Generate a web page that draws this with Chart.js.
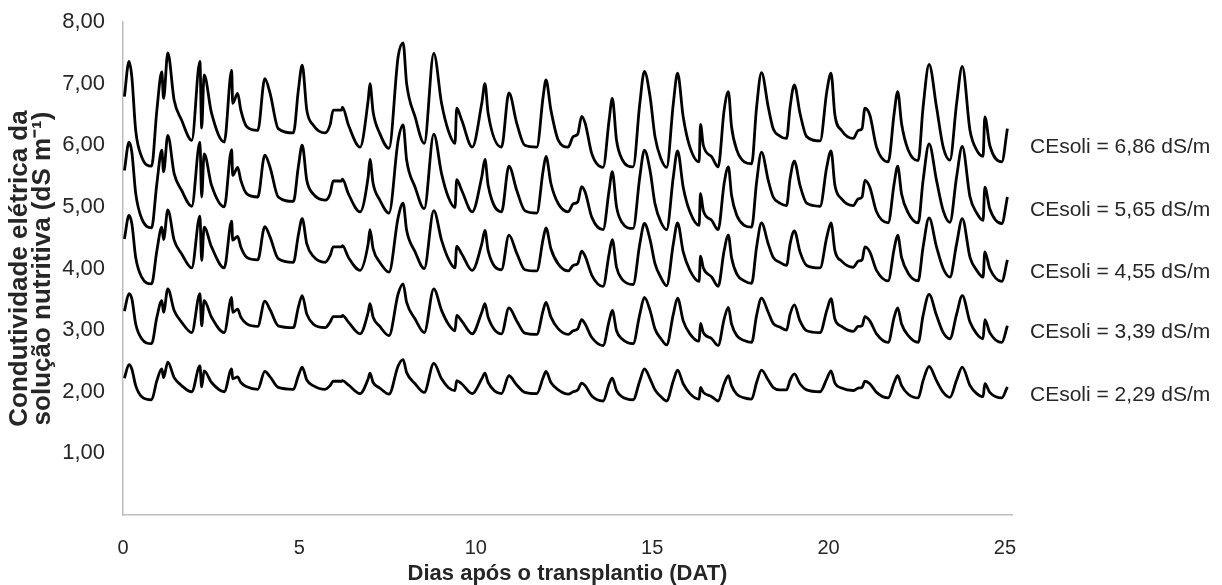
<!DOCTYPE html>
<html>
<head>
<meta charset="utf-8">
<script src="https://cdn.jsdelivr.net/npm/chart.js@4.4.1/dist/chart.umd.min.js"></script>
<style>
  html, body { margin: 0; padding: 0; background: #fff; }
  #wrap { width: 1222px; height: 585px; }
</style>
</head>
<body>
<div id="wrap"><canvas id="chart" width="1222" height="585"></canvas></div>
<script>
// days after transplant (shared time base of the five records)
var days = [
  0.04, 0.17, 0.25, 0.36, 0.53, 0.81, 0.96, 1.10, 1.15, 1.27,
  1.45, 1.66, 1.95, 2.18, 2.23, 2.30, 2.51, 2.87, 3.08, 3.11,
  3.25, 3.34, 3.51, 3.82, 4.02, 4.17, 4.40, 4.83, 4.97, 5.08,
  5.21, 5.39, 5.73, 5.87, 5.96, 6.20, 6.22, 6.39, 6.72, 6.95,
  7.00, 7.09, 7.28, 7.54, 7.80, 7.94, 8.04, 8.28, 8.54, 8.81,
  9.03, 9.22, 9.41, 9.46, 9.60, 9.90, 10.17, 10.26, 10.35, 10.73,
  10.94, 11.16, 11.39, 11.73, 11.91, 11.99, 12.13, 12.34, 12.62, 12.76,
  12.89, 13.00, 13.10, 13.29, 13.61, 13.78, 13.87, 13.99, 14.14, 14.46,
  14.65, 14.78, 14.94, 15.08, 15.25, 15.41, 15.60, 15.72, 15.88, 16.07,
  16.33, 16.37, 16.45, 16.69, 16.87, 17.04, 17.16, 17.25, 17.40, 17.61,
  17.82, 17.96, 18.10, 18.29, 18.43, 18.62, 18.81, 18.91, 19.03, 19.19,
  19.38, 19.76, 19.95, 20.07, 20.18, 20.37, 20.70, 20.84, 20.95, 21.03,
  21.17, 21.36, 21.69, 21.86, 21.96, 22.07, 22.26, 22.54, 22.68, 22.85,
  23.06, 23.25, 23.44, 23.63, 23.79, 24.01, 24.20, 24.38, 24.43, 24.57,
  24.91, 25.07
];

var ce686 = [
  6.79, 7.36, 7.11, 6.24, 5.81, 5.66, 6.57, 7.19, 6.76, 7.50,
  6.73, 6.41, 6.08, 7.36, 6.28, 7.14, 6.52, 6.05, 7.22, 6.68,
  6.84, 6.57, 6.30, 6.24, 7.08, 6.84, 6.27, 6.20, 6.89, 7.30,
  6.57, 6.33, 6.20, 6.33, 6.57, 6.57, 6.62, 6.33, 5.97, 6.73,
  7.00, 6.54, 6.19, 5.95, 7.44, 7.66, 7.00, 6.46, 6.03, 7.49,
  6.68, 6.24, 6.03, 6.60, 6.41, 5.97, 6.68, 7.00, 6.52, 5.97,
  6.85, 6.36, 6.00, 5.97, 6.79, 7.06, 6.57, 6.08, 5.97, 6.14,
  6.18, 6.47, 6.36, 5.86, 5.64, 6.41, 6.76, 6.08, 5.78, 5.65,
  6.68, 7.20, 6.79, 6.14, 5.78, 5.64, 6.68, 7.17, 6.46, 5.97,
  5.73, 6.34, 6.00, 5.81, 5.65, 6.57, 6.87, 6.30, 5.92, 5.73,
  5.70, 6.62, 7.18, 6.62, 6.27, 6.15, 6.11, 6.62, 6.98, 6.52,
  6.14, 6.07, 6.87, 7.17, 6.49, 6.24, 6.11, 6.24, 6.27, 6.60,
  6.49, 5.97, 5.73, 6.52, 6.87, 6.35, 5.92, 5.75, 6.62, 7.31,
  6.62, 5.97, 5.76, 6.68, 7.28, 6.24, 5.92, 5.82, 6.46, 6.00,
  5.73, 6.27
];

var ce565 = [
  5.59, 6.05, 5.89, 5.22, 4.81, 4.66, 5.38, 5.92, 5.57, 6.16,
  5.54, 5.27, 5.01, 6.05, 5.16, 5.86, 5.35, 5.00, 5.93, 5.51,
  5.64, 5.43, 5.21, 5.16, 5.84, 5.64, 5.16, 5.09, 5.65, 6.00,
  5.43, 5.21, 5.11, 5.21, 5.42, 5.42, 5.45, 5.21, 4.92, 5.49,
  5.77, 5.38, 5.11, 4.90, 6.08, 6.33, 5.76, 5.32, 4.97, 6.18,
  5.54, 5.16, 4.99, 5.44, 5.27, 4.92, 5.49, 5.77, 5.35, 4.92,
  5.66, 5.27, 4.94, 4.90, 5.59, 5.82, 5.38, 5.05, 4.92, 5.05,
  5.08, 5.33, 5.24, 4.83, 4.63, 5.27, 5.57, 5.00, 4.75, 4.65,
  5.49, 5.92, 5.59, 5.05, 4.75, 4.63, 5.49, 5.91, 5.32, 4.92,
  4.70, 5.22, 4.94, 4.78, 4.63, 5.38, 5.65, 5.19, 4.86, 4.70,
  4.67, 5.40, 5.89, 5.43, 5.16, 5.06, 5.02, 5.46, 5.74, 5.35,
  5.06, 5.01, 5.65, 5.91, 5.35, 5.13, 5.02, 5.13, 5.16, 5.43,
  5.32, 4.92, 4.74, 5.38, 5.66, 5.21, 4.90, 4.74, 5.43, 6.02,
  5.43, 4.94, 4.75, 5.49, 5.98, 5.16, 4.90, 4.78, 5.32, 4.97,
  4.73, 5.16
];

var ce455 = [
  4.48, 4.86, 4.73, 4.18, 3.86, 3.75, 4.29, 4.67, 4.47, 4.95,
  4.46, 4.24, 4.01, 4.85, 4.13, 4.67, 4.35, 4.01, 4.77, 4.46,
  4.52, 4.35, 4.18, 4.14, 4.68, 4.51, 4.16, 4.10, 4.54, 4.81,
  4.40, 4.20, 4.10, 4.21, 4.35, 4.35, 4.37, 4.18, 3.97, 4.40,
  4.63, 4.32, 4.10, 3.94, 4.83, 5.06, 4.62, 4.27, 4.00, 4.94,
  4.46, 4.16, 4.01, 4.36, 4.24, 3.97, 4.40, 4.62, 4.29, 3.98,
  4.54, 4.25, 3.98, 3.96, 4.48, 4.66, 4.32, 4.07, 3.96, 4.05,
  4.08, 4.28, 4.20, 3.89, 3.71, 4.24, 4.47, 4.02, 3.83, 3.74,
  4.40, 4.73, 4.47, 4.08, 3.85, 3.72, 4.40, 4.74, 4.27, 3.97,
  3.79, 4.20, 4.01, 3.86, 3.71, 4.29, 4.54, 4.18, 3.91, 3.80,
  3.76, 4.35, 4.74, 4.40, 4.18, 4.10, 4.05, 4.40, 4.61, 4.27,
  4.05, 4.01, 4.51, 4.74, 4.29, 4.12, 4.02, 4.12, 4.14, 4.35,
  4.27, 3.97, 3.80, 4.32, 4.54, 4.18, 3.92, 3.80, 4.35, 4.82,
  4.35, 4.00, 3.86, 4.40, 4.81, 4.18, 3.97, 3.86, 4.27, 4.00,
  3.79, 4.14
];

var ce339 = [
  3.31, 3.59, 3.51, 3.10, 2.86, 2.78, 3.21, 3.48, 3.29, 3.67,
  3.32, 3.13, 2.96, 3.59, 3.07, 3.48, 3.21, 2.96, 3.53, 3.29,
  3.34, 3.21, 3.10, 3.06, 3.47, 3.33, 3.07, 3.04, 3.37, 3.56,
  3.26, 3.10, 3.04, 3.13, 3.22, 3.22, 3.24, 3.13, 2.94, 3.29,
  3.43, 3.21, 3.06, 2.91, 3.59, 3.75, 3.45, 3.18, 2.96, 3.67,
  3.32, 3.10, 2.99, 3.24, 3.15, 2.94, 3.29, 3.43, 3.21, 2.94,
  3.36, 3.15, 2.95, 2.93, 3.32, 3.45, 3.21, 3.02, 2.93, 2.99,
  3.02, 3.17, 3.10, 2.88, 2.75, 3.15, 3.32, 2.99, 2.86, 2.78,
  3.26, 3.53, 3.32, 3.02, 2.86, 2.76, 3.26, 3.52, 3.15, 2.94,
  2.82, 3.11, 2.96, 2.86, 2.75, 3.18, 3.37, 3.10, 2.91, 2.83,
  2.80, 3.24, 3.52, 3.29, 3.11, 3.05, 3.00, 3.26, 3.41, 3.15,
  2.99, 2.96, 3.32, 3.51, 3.18, 3.06, 2.98, 3.06, 3.07, 3.22,
  3.15, 2.94, 2.80, 3.21, 3.36, 3.10, 2.91, 2.80, 3.24, 3.58,
  3.24, 2.96, 2.86, 3.26, 3.56, 3.13, 2.94, 2.86, 3.17, 2.96,
  2.80, 3.07
];

var ce229 = [
  2.22, 2.44, 2.37, 2.10, 1.92, 1.87, 2.18, 2.37, 2.23, 2.48,
  2.23, 2.10, 2.00, 2.42, 2.08, 2.34, 2.15, 2.00, 2.37, 2.21,
  2.24, 2.15, 2.08, 2.04, 2.33, 2.24, 2.07, 2.04, 2.26, 2.40,
  2.19, 2.10, 2.04, 2.10, 2.17, 2.17, 2.18, 2.11, 1.97, 2.21,
  2.30, 2.15, 2.06, 1.96, 2.42, 2.52, 2.31, 2.13, 1.99, 2.46,
  2.21, 2.07, 2.02, 2.18, 2.13, 1.97, 2.21, 2.30, 2.15, 1.97,
  2.26, 2.11, 1.99, 1.97, 2.23, 2.33, 2.15, 2.03, 1.96, 2.00,
  2.03, 2.14, 2.10, 1.93, 1.85, 2.13, 2.22, 2.02, 1.92, 1.87,
  2.18, 2.37, 2.21, 2.03, 1.92, 1.85, 2.18, 2.35, 2.13, 1.97,
  1.88, 2.07, 1.99, 1.92, 1.85, 2.13, 2.26, 2.10, 1.96, 1.90,
  1.88, 2.15, 2.35, 2.19, 2.07, 2.03, 2.03, 2.19, 2.29, 2.13,
  2.03, 2.00, 2.21, 2.34, 2.14, 2.06, 2.02, 2.06, 2.07, 2.17,
  2.13, 1.99, 1.90, 2.15, 2.26, 2.10, 1.96, 1.90, 2.18, 2.41,
  2.18, 1.99, 1.91, 2.19, 2.40, 2.10, 1.97, 1.92, 2.13, 1.99,
  1.90, 2.08
];

var seriesNames = ['CEsoli = 6,86 dS/m', 'CEsoli = 5,65 dS/m', 'CEsoli = 4,55 dS/m', 'CEsoli = 3,39 dS/m', 'CEsoli = 2,29 dS/m'];
var seriesValues = [ce686, ce565, ce455, ce339, ce229];
// where each series name sits beside the plot (in dS m-1 units of the y axis)
var nameLevels = [5.97, 4.95, 3.94, 2.96, 1.95];

var yTicks = [0, 1, 2, 3, 4, 5, 6, 7, 8];
var xTicks = [0, 5, 10, 15, 20, 25];

var FONT = "'Liberation Sans', Arial, sans-serif";
var TEXT = '#262626';

function toPoints(values) {
  var pts = [];
  for (var i = 0; i < values.length; i++) {
    pts.push({x: days[i], y: values[i]});
  }
  return pts;
}

var datasets = [];
for (var s = 0; s < seriesValues.length; s++) {
  datasets.push({
    label: seriesNames[s],
    data: toPoints(seriesValues[s]),
    borderColor: '#000000',
    borderWidth: 2.8,
    pointRadius: 0,
    cubicInterpolationMode: 'monotone',
    fill: false
  });
}

var seriesNamesPlugin = {
  id: 'seriesNames',
  afterDraw: function(chart) {
    var ctx = chart.ctx;
    var yScale = chart.scales.y;
    ctx.save();
    ctx.font = '21px ' + FONT;
    ctx.fillStyle = TEXT;
    ctx.textAlign = 'left';
    ctx.textBaseline = 'middle';
    for (var i = 0; i < seriesNames.length; i++) {
      ctx.fillText(seriesNames[i], chart.chartArea.right + 18, yScale.getPixelForValue(nameLevels[i]));
    }
    ctx.restore();
  }
};

var chart = new Chart(document.getElementById('chart').getContext('2d'), {
  type: 'line',
  data: {datasets: datasets},
  plugins: [seriesNamesPlugin],
  options: {
    responsive: false,
    animation: false,
    devicePixelRatio: 1,
    layout: {padding: {left: 0, right: 210, top: 22, bottom: 0}},
    plugins: {legend: {display: false}, tooltip: {enabled: false}},
    scales: {
      x: {
        type: 'linear',
        min: 0,
        max: 25.2,
        afterBuildTicks: function(scale) {
          scale.ticks = xTicks.map(function(v) { return {value: v}; });
        },
        afterFit: function(scale) { scale.height = 70; },
        grid: {display: false, drawTicks: false},
        border: {display: true, color: '#bdbdbd', width: 1.5},
        ticks: {
          padding: 21,
          color: TEXT,
          font: {family: FONT, size: 20},
          maxRotation: 0,
          callback: function(v) { return String(v); }
        },
        title: {
          display: true,
          text: 'Dias após o transplantio (DAT)',
          color: TEXT,
          font: {family: FONT, size: 22, weight: 'bold', lineHeight: 1},
          padding: {top: 0, bottom: 0}
        }
      },
      y: {
        type: 'linear',
        min: 0,
        max: 8,
        afterBuildTicks: function(scale) {
          scale.ticks = yTicks.map(function(v) { return {value: v}; });
        },
        afterFit: function(scale) {
          scale.width = 123;
          scale.paddingTop = 0;
          scale.paddingBottom = 0;
        },
        grid: {display: false, drawTicks: false},
        border: {display: true, color: '#bdbdbd', width: 1.5},
        ticks: {
          padding: 18,
          color: TEXT,
          font: {family: FONT, size: 22},
          callback: function(v) { return v === 0 ? '' : v.toFixed(2).replace('.', ','); }
        },
        title: {
          display: true,
          text: ['Condutividade elétrica da', 'solução nutritiva (dS m\u207B\u00B9)'],
          color: TEXT,
          font: {family: FONT, size: 26, weight: 'bold', lineHeight: 0.9},
          padding: {top: 8, bottom: 0}
        }
      }
    }
  }
});
</script>
</body>
</html>
